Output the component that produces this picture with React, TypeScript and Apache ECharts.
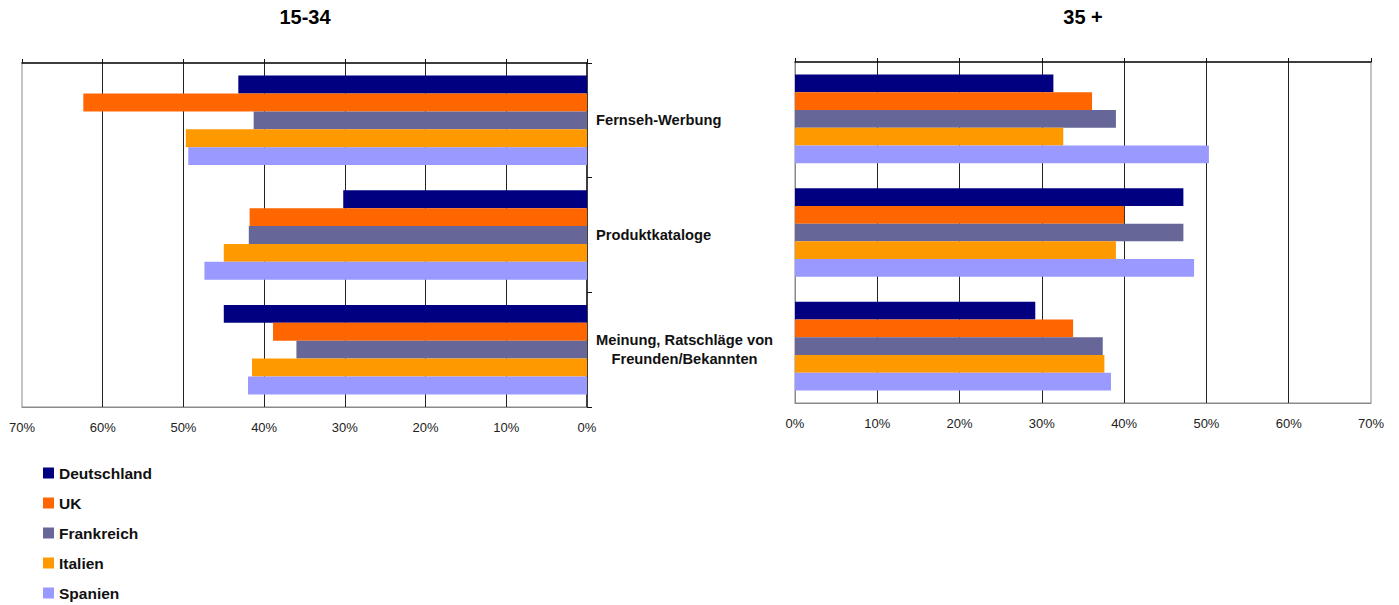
import React, { useEffect, useRef } from "react";
import * as echarts from "echarts";

const categories = ["Fernseh-Werbung", "Produktkataloge", "Meinung, Ratschläge von\nFreunden/Bekannten"];
const countries = ["Deutschland", "UK", "Frankreich", "Italien", "Spanien"];
const colors = ["#000080", "#FF6600", "#666699", "#FF9900", "#9999FF"];

// 15-34 (values in %, per category)
const young_Deutschland = [43.2, 30.2, 45.0];
const young_UK = [62.4, 41.8, 38.9];
const young_Frankreich = [41.3, 41.9, 36.0];
const young_Italien = [49.7, 45.0, 41.5];
const young_Spanien = [49.4, 47.4, 42.0];

// 35 +
const old_Deutschland = [31.4, 47.2, 29.2];
const old_UK = [36.1, 40.0, 33.8];
const old_Frankreich = [39.0, 47.2, 37.4];
const old_Italien = [32.6, 39.0, 37.6];
const old_Spanien = [50.3, 48.5, 38.4];

const youngData = [young_Deutschland, young_UK, young_Frankreich, young_Italien, young_Spanien];
const oldData = [old_Deutschland, old_UK, old_Frankreich, old_Italien, old_Spanien];

const titles = ["15-34", "35 +"];
const FONT = "'Liberation Sans', Arial, Helvetica, sans-serif";

export default function App() {
  const ref = useRef<HTMLDivElement>(null);

  useEffect(() => {
    document.body.style.margin = "0";
    if (!ref.current) return;
    const chart = echarts.init(ref.current, null, { renderer: "svg" });

    const valueAxisBase = (gridIndex: number, inverse: boolean) => ({
      type: "value",
      gridIndex,
      min: 0,
      max: 70,
      interval: 10,
      inverse,
    });

    const bottomAxis = (gridIndex: number, inverse: boolean) => ({
      ...valueAxisBase(gridIndex, inverse),
      position: "bottom",
      axisLine: { show: true, lineStyle: { color: "#8a8a8a", width: 1 } },
      axisTick: { show: false },
      axisLabel: {
        show: true,
        margin: 14,
        formatter: (v: number) => `${v}%`,
        color: "#222",
        fontSize: 13,
        fontFamily: FONT,
      },
      splitLine: {
        show: true,
        showMinLine: false,
        showMaxLine: false,
        lineStyle: { color: "#222", width: 1 },
      },
    });

    const topAxis = (gridIndex: number, inverse: boolean) => ({
      ...valueAxisBase(gridIndex, inverse),
      position: "top",
      axisLine: { show: true, lineStyle: { color: "#111", width: 1.5 } },
      axisTick: { show: true, inside: false, length: 4, lineStyle: { color: "#111" } },
      axisLabel: { show: false },
      splitLine: { show: false },
    });

    const makeSeries = (data: number[][], xi: number, yi: number) =>
      data.map((vals, i) => ({
        type: "bar",
        name: countries[i],
        xAxisIndex: xi,
        yAxisIndex: yi,
        data: vals,
        barGap: "0%",
        barCategoryGap: "22%",
        itemStyle: { color: colors[i] },
      }));

    const option = {
      animation: false,
      backgroundColor: "#fff",
      title: [
        {
          text: titles[0],
          left: 305,
          top: 7,
          textAlign: "center",
          padding: 0,
          textStyle: { fontSize: 20, fontWeight: "bold", color: "#000", fontFamily: FONT },
        },
        {
          text: titles[1],
          left: 1083,
          top: 7,
          textAlign: "center",
          padding: 0,
          textStyle: { fontSize: 20, fontWeight: "bold", color: "#000", fontFamily: FONT },
        },
      ],
      legend: {
        orient: "vertical",
        left: 43,
        top: 465,
        padding: 0,
        itemWidth: 11,
        itemHeight: 11,
        itemGap: 14,
        icon: "rect",
        data: countries,
        textStyle: { fontSize: 15.5, fontWeight: "bold", color: "#111", fontFamily: FONT },
      },
      grid: [
        { left: 22, top: 63, width: 565, height: 344, show: true, borderColor: "#8a8a8a", borderWidth: 1, backgroundColor: "#fff" },
        { left: 795, top: 62, width: 576, height: 341, show: true, borderColor: "#8a8a8a", borderWidth: 1, backgroundColor: "#fff" },
      ],
      xAxis: [bottomAxis(0, true), topAxis(0, true), bottomAxis(1, false), topAxis(1, false)],
      yAxis: [
        {
          type: "category",
          gridIndex: 0,
          inverse: true,
          position: "right",
          data: categories,
          axisLine: { show: true, lineStyle: { color: "#111", width: 1.5 } },
          axisTick: { show: true, inside: false, length: 5, lineStyle: { color: "#111" } },
          axisLabel: {
            show: true,
            margin: 9,
            align: "left",
            formatter: (v: string) => v.split("\n").map((l) => `{c|${l}}`).join("\n"),
            rich: {
              c: { align: "center", fontSize: 14.7, fontWeight: "bold", color: "#111", lineHeight: 19, fontFamily: FONT },
            },
          },
          splitLine: { show: false },
        },
        {
          type: "category",
          gridIndex: 1,
          inverse: true,
          position: "left",
          data: categories,
          axisLine: { show: true, lineStyle: { color: "#8a8a8a", width: 1 } },
          axisTick: { show: false },
          axisLabel: { show: false },
          splitLine: { show: false },
        },
      ],
      series: [...makeSeries(youngData, 0, 0), ...makeSeries(oldData, 2, 1)],
    };

    chart.setOption(option as any);
    return () => chart.dispose();
  }, []);

  return <div ref={ref} style={{ width: 1399, height: 605 }} />;
}
